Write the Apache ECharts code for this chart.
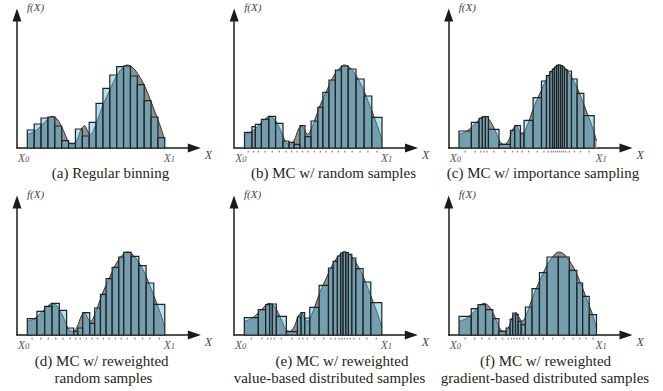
<!DOCTYPE html>
<html><head><meta charset="utf-8">
<script src="https://cdn.jsdelivr.net/npm/echarts@6/dist/echarts.min.js"></script>
<style>html,body{margin:0;padding:0;background:#fff}#c{width:663px;height:391px}</style>
</head><body><div id="c"></div>
<script>
// Shared function f(X); X normalised so that X0 = 0 and X1 = 1
const curveX = [0,0.051,0.100,0.150,0.180,0.216,0.250,0.277,0.301,0.330,0.362,0.393,0.417,0.439,0.459,0.483,0.519,0.551,0.600,0.650,0.701,0.726,0.762,0.801,0.850,0.900,0.951,0.981,1.0];
const curveY = [13.7,16.3,22,29,31.7,29,21.3,13,5.7,3.7,8,19,22.3,17,13.7,18,31,43,58,72.3,81.3,83,81,74.7,63,46.3,28,16.3,7];

// (a) Regular binning
const edgesA = [0,0.05,0.10,0.15,0.20,0.25,0.30,0.35,0.40,0.45,0.50,0.55,0.60,0.65,0.70,0.75,0.80,0.85,0.90,0.95,1.0];
const heightsA = [18,24,30,31,22,7.3,4.7,19,12,25.7,44.7,59.7,73,81.3,82,72,63.3,47.3,31,10.3];
// (b) MC w/ random samples
const edgesB = [0,0.054,0.079,0.123,0.177,0.226,0.280,0.324,0.361,0.403,0.440,0.484,0.533,0.570,0.614,0.661,0.705,0.754,0.811,0.870,0.926,1];
const heightsB = [15.7,21.3,23.7,28.7,31.7,24.7,7,5.7,3.7,22.3,11.3,27,40.7,55.7,68,78,82,79,69,52,30.7];
const samplesB = [0.027,0.067,0.101,0.150,0.202,0.253,0.302,0.343,0.382,0.422,0.462,0.509,0.552,0.592,0.638,0.683,0.730,0.783,0.841,0.898,0.963];
// (c) MC w/ importance sampling
const edgesC = [0,0.090,0.146,0.170,0.192,0.214,0.291,0.374,0.405,0.447,0.473,0.539,0.600,0.636,0.660,0.680,0.694,0.709,0.723,0.738,0.752,0.767,0.786,0.818,0.859,0.908,0.983];
const heightsC = [17,25.7,29.7,31,31.3,18.7,3.7,17.7,22.3,15,27.7,50.3,67,72.3,76.3,79,81,82.7,83,82.3,81,78.3,77,69,54.7,32.3];
const samplesC = [0.045,0.118,0.158,0.181,0.203,0.253,0.333,0.390,0.426,0.460,0.506,0.570,0.618,0.648,0.670,0.687,0.702,0.716,0.731,0.745,0.760,0.777,0.802,0.839,0.884,0.946];
// (d) MC w/ reweighted random samples
const edgesD = [0,0.070,0.126,0.180,0.233,0.286,0.337,0.367,0.403,0.454,0.490,0.532,0.573,0.617,0.665,0.701,0.755,0.811,0.864,0.920,1];
const heightsD = [16.3,23.7,28.7,31.7,24.7,7,3.7,7,22.3,11.7,27,40.7,56.3,67.7,78,82.7,78.7,69.3,52,30.7];
const samplesD = [0.035,0.098,0.153,0.207,0.260,0.312,0.352,0.385,0.429,0.472,0.511,0.553,0.595,0.641,0.683,0.728,0.783,0.838,0.892,0.960];
// (e) MC w/ reweighted value-based distributed samples
const edgesE = [0,0.102,0.155,0.184,0.204,0.233,0.306,0.386,0.413,0.439,0.476,0.544,0.612,0.646,0.677,0.701,0.718,0.738,0.757,0.782,0.811,0.864,0.920,1];
const heightsE = [17.3,25.3,30.3,31,31,18.7,3.3,18,22.3,17,27.7,49.7,67,73.7,79,82,83,82.3,80.7,77,66.3,53,32.3];
const samplesE = [0.051,0.129,0.170,0.194,0.219,0.270,0.346,0.400,0.426,0.458,0.510,0.578,0.629,0.662,0.689,0.710,0.728,0.748,0.770,0.797,0.838,0.892,0.960];
// (f) MC w/ reweighted gradient-based distributed samples
const edgesF = [0,0.089,0.138,0.193,0.246,0.290,0.343,0.372,0.391,0.411,0.430,0.452,0.483,0.531,0.585,0.640,0.722,0.802,0.857,0.899,0.947,1];
const heightsF = [18.7,26.3,30.3,25.3,16.3,3.7,7,15.7,22,20.3,13.7,10.3,28,46.3,62.3,78,78,64.7,52,38.7,20.3];
const samplesF = [0.045,0.114,0.166,0.220,0.268,0.317,0.358,0.382,0.401,0.421,0.441,0.468,0.507,0.558,0.613,0.681,0.762,0.830,0.878,0.923,0.974];

const captionsA = ['(a) Regular binning'];
const captionsB = ['(b) MC w/ random samples'];
const captionsC = ['(c) MC w/ importance sampling'];
const captionsD = ['(d) MC w/ reweighted', 'random samples'];
const captionsE = ['(e) MC w/ reweighted', 'value-based distributed samples'];
const captionsF = ['(f) MC w/ reweighted', 'gradient-based distributed samples'];

// layout (pixels)
const SPAN = 137.5, PRE = 0.075, AXEND = 167, YH = 133;
const panels = [
  {x:27.3, base:148, edges:edgesA, h:heightsA, s:null, cap:captionsA, capX:[110.5], capY:[172.5]},
  {x:244.5, base:148, edges:edgesB, h:heightsB, s:samplesB, cap:captionsB, capX:[333.5], capY:[172.5]},
  {x:459, base:148, edges:edgesC, h:heightsC, s:samplesC, cap:captionsC, capX:[543], capY:[172.5]},
  {x:27.3, base:335, edges:edgesD, h:heightsD, s:samplesD, cap:captionsD, capX:[101.7,103.5], capY:[361,378]},
  {x:244.3, base:335, edges:edgesE, h:heightsE, s:samplesE, cap:captionsE, capX:[342,329.5], capY:[361,378]},
  {x:459, base:335, edges:edgesF, h:heightsF, s:samplesF, cap:captionsF, capX:[545.5,545], capY:[361,378]}
];

const grid = [], xAxis = [], yAxis = [], series = [], graphic = [];
const SERIF = '"Liberation Serif", "Times New Roman", serif';
const curveData = curveX.map((v, i) => [v, curveY[i]]);

panels.forEach((p, i) => {
  const left = p.x - PRE * SPAN;
  grid.push({left: left, top: p.base - YH, width: PRE * SPAN + AXEND, height: YH});
  xAxis.push({gridIndex: i, type: 'value', min: -PRE, max: AXEND / SPAN,
    axisLine: {show: true, onZero: false, symbol: ['none', 'triangle'], symbolSize: [9, 13],
      lineStyle: {color: '#1a1a1a', width: 1.5}},
    axisTick: {show: false}, axisLabel: {show: false}, splitLine: {show: false}});
  yAxis.push({gridIndex: i, type: 'value', min: 0, max: YH,
    axisLine: {show: true, onZero: false, symbol: ['none', 'triangle'], symbolSize: [9, 13],
      lineStyle: {color: '#1a1a1a', width: 1.5}},
    axisTick: {show: false}, axisLabel: {show: false}, splitLine: {show: false}});

  series.push({type: 'line', xAxisIndex: i, yAxisIndex: i, data: curveData, smooth: 0.35,
    showSymbol: false, symbol: 'none', z: 1, silent: true,
    lineStyle: {color: '#333', width: 1},
    areaStyle: {color: '#909090', opacity: 1}});

  const bars = p.h.map((hv, k) => [p.edges[k], p.edges[k + 1], hv]);
  series.push({type: 'custom', xAxisIndex: i, yAxisIndex: i, data: bars, z: 2, silent: true,
    encode: {x: [0, 1], y: 2},
    renderItem: function (params, api) {
      const a = api.coord([api.value(0), api.value(2)]);
      const b = api.coord([api.value(1), 0]);
      return {type: 'rect', shape: {x: a[0], y: a[1], width: b[0] - a[0], height: b[1] - a[1]},
        style: {fill: 'rgba(76,180,220,0.42)', stroke: '#222', lineWidth: 1.2}};
    }});

  if (p.s) {
    series.push({type: 'scatter', xAxisIndex: i, yAxisIndex: i, data: p.s.map(v => [v, 0]),
      symbol: 'rect', symbolSize: [1.3, 1.6], symbolOffset: [0, 3.6], clip: false, z: 3, silent: true,
      itemStyle: {color: '#666'}});
  }

  // axis texts
  const tipY = p.base - YH - 6.5;
  graphic.push({type: 'text', x: left + 10, y: tipY - 2, silent: true,
    style: {text: 'f(X)', font: 'italic 11px ' + SERIF, fill: '#444', align: 'left', verticalAlign: 'middle', textAlign: 'left', textVerticalAlign: 'middle'}});
  const rich = {x: {fontSize: 11.5, fontStyle: 'italic', fontFamily: SERIF, fill: '#555', color: '#555', verticalAlign: 'bottom', lineHeight: 12},
                n: {fontSize: 8.5, fontStyle: 'italic', fontFamily: SERIF, fill: '#555', color: '#555', verticalAlign: 'bottom', lineHeight: 12}};
  graphic.push({type: 'text', x: left + 1, y: p.base + 9.5, silent: true,
    style: {text: '{x|X}{n|0}', rich: rich, align: 'left', verticalAlign: 'middle', textAlign: 'left', textVerticalAlign: 'middle'}});
  graphic.push({type: 'text', x: p.x + SPAN - 1, y: p.base + 9.5, silent: true,
    style: {text: '{x|X}{n|1}', rich: rich, align: 'left', verticalAlign: 'middle', textAlign: 'left', textVerticalAlign: 'middle'}});
  graphic.push({type: 'text', x: p.x + AXEND + 10.5, y: p.base + 7, silent: true,
    style: {text: 'X', font: 'italic 12px ' + SERIF, fill: '#444', align: 'left', verticalAlign: 'middle', textAlign: 'left', textVerticalAlign: 'middle'}});
  p.cap.forEach((t, k) => {
    graphic.push({type: 'text', x: p.capX[k], y: p.capY[k], silent: true,
      style: {text: t, font: '15px ' + SERIF, fill: '#231f20', align: 'center', verticalAlign: 'middle', textAlign: 'center', textVerticalAlign: 'middle'}});
  });
});

const chart = echarts.init(document.getElementById('c'), null, {renderer: 'svg'});
chart.setOption({animation: false, backgroundColor: '#fff', grid, xAxis, yAxis, series, graphic});
</script></body></html>
